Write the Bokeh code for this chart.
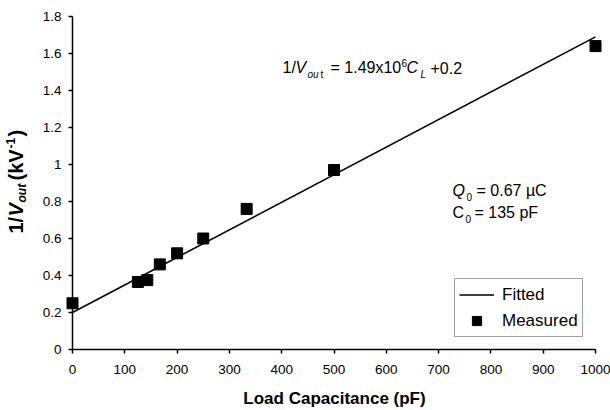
import math
from bokeh.plotting import figure
from bokeh.models import Range1d, Label, Legend, LegendItem, FixedTicker
from bokeh.embed import file_html
from bokeh.resources import INLINE

# ---- data ----
cap_pf = [0, 125, 143, 167, 200, 250, 333, 500, 1000]
inv_v = [0.25, 0.365, 0.375, 0.46, 0.52, 0.60, 0.76, 0.97, 1.64]
fit_cap = [0, 1000]
fit_inv = [0.2, 1.69]
x_ticks = [0, 100, 200, 300, 400, 500, 600, 700, 800, 900, 1000]
y_ticks = [0, 0.2, 0.4, 0.6, 0.8, 1.0, 1.2, 1.4, 1.6, 1.8]
y_tick_labels = ["0", "0.2", "0.4", "0.6", "0.8", "1", "1.2", "1.4", "1.6", "1.8"]
x_title = "Load Capacitance (pF)"

FONT = "Liberation Sans"
W, H = 610, 410
# pixel positions of the axes in the reference
AX_L, AX_R, AX_T, AX_B = 72, 595, 16, 349
XMIN, XMAX, YMIN, YMAX = 0, 1000, 0, 1.8
# the frame covers the whole canvas so that nothing (labels, axes) gets clipped
xs = (XMAX - XMIN) / (AX_R - AX_L)
ys = (YMAX - YMIN) / (AX_B - AX_T)
X_START = XMIN - AX_L * xs
X_END = XMAX + (W - AX_R) * xs
Y_START = YMIN - (H - AX_B) * ys
Y_END = YMAX + AX_T * ys

p = figure(width=W, height=H, x_range=Range1d(X_START, X_END), y_range=Range1d(Y_START, Y_END),
           output_backend="svg", toolbar_location=None,
           min_border_left=0, min_border_right=0, min_border_top=0, min_border_bottom=0)
p.outline_line_color = None
p.grid.visible = False
p.background_fill_color = "white"
p.border_fill_color = "white"

for ax in (p.xaxis[0], p.yaxis[0]):
    ax.axis_line_color = "black"
    ax.axis_line_width = 1.5
    ax.major_tick_line_color = "black"
    ax.major_tick_line_width = 1.5
    ax.major_tick_in = 0
    ax.major_tick_out = 4
    ax.minor_tick_line_color = None
    ax.major_label_text_font = FONT
    ax.major_label_text_font_size = "13.5px"
    ax.major_label_text_color = "black"
    ax.axis_label = None

p.xaxis.ticker = FixedTicker(ticks=x_ticks)
p.xaxis.bounds = (XMIN, XMAX)
p.xaxis.fixed_location = YMIN
p.xaxis.major_label_standoff = 11

p.yaxis.ticker = FixedTicker(ticks=y_ticks)
p.yaxis.bounds = (YMIN, YMAX)
p.yaxis.fixed_location = XMIN
p.yaxis.major_label_overrides = {t: l for t, l in zip(y_ticks, y_tick_labels)}
p.yaxis.major_label_standoff = 7

line_r = p.line(fit_cap, fit_inv, line_color="black", line_width=1.6)
sq_r = p.scatter(cap_pf, inv_v, marker="square", size=11, fill_color="black",
                 line_color="black", level="overlay")

legend = Legend(items=[LegendItem(label="Fitted", renderers=[line_r]),
                       LegendItem(label="Measured", renderers=[sq_r])],
                location=(454, H - 337))
legend.label_text_font = FONT
legend.label_text_font_size = "17px"
legend.label_text_color = "black"
legend.glyph_width = 35
legend.glyph_height = 23
legend.label_height = 23
legend.spacing = 3
legend.padding = 4
legend.margin = 0
legend.label_standoff = 8
legend.border_line_color = "#444444"
legend.border_line_width = 1
legend.background_fill_color = "white"
p.add_layout(legend)


def px_x(px):
    return XMIN + (px - AX_L) * xs


def px_y(py):
    return YMIN + (AX_B - py) * ys


MID = 0.35  # distance from baseline to the middle of the text, in em


def txt(text, px, py, size, style="normal", angle=0.0, align="left"):
    # (px, py) is the baseline start point in screen pixels
    if angle == 0.0:
        py = py - MID * size
    else:
        px = px - MID * size
    p.add_layout(Label(x=px_x(px), y=px_y(py), text=text, text_font=FONT,
                       text_font_size=f"{size}px", text_font_style=style,
                       text_color="black", text_align=align,
                       text_baseline="middle", angle=angle))


# x-axis title
txt(x_title, 334, 404, 17, "bold", align="center")

# y-axis title: 1/V_out (kV^-1), rotated
R = math.pi / 2
txt("1/", 22, 233, 20, "bold", R)
txt("V", 22, 216, 20, "bold italic", R)
txt("out", 26, 202, 12, "bold italic", R)
txt("(kV", 22, 180, 20, "bold", R)
txt("-1", 14, 148, 12, "bold", R)
txt(")", 22, 136, 20, "bold", R)

# equation
txt("1/", 282, 73, 16)
txt("V", 295, 73, 16, "italic")
txt("ou", 307, 77, 10, "italic")
txt("t", 320, 77, 10)
txt("= 1.49x10", 330, 73, 16)
txt("6", 401, 66, 10)
txt("C", 406, 73, 16, "italic")
txt("L", 420, 77, 10, "italic")
txt("+0.2", 430, 73, 16)

# Q0, C0
txt("Q", 452, 196, 16, "italic")
txt("0", 466, 200, 10)
txt("= 0.67 \u00b5C", 476, 196, 16)
txt("C", 452, 218, 16)
txt("0", 465, 222, 10)
txt("= 135 pF", 474, 218, 16)

open("out.html", "w").write(file_html(p, INLINE))
